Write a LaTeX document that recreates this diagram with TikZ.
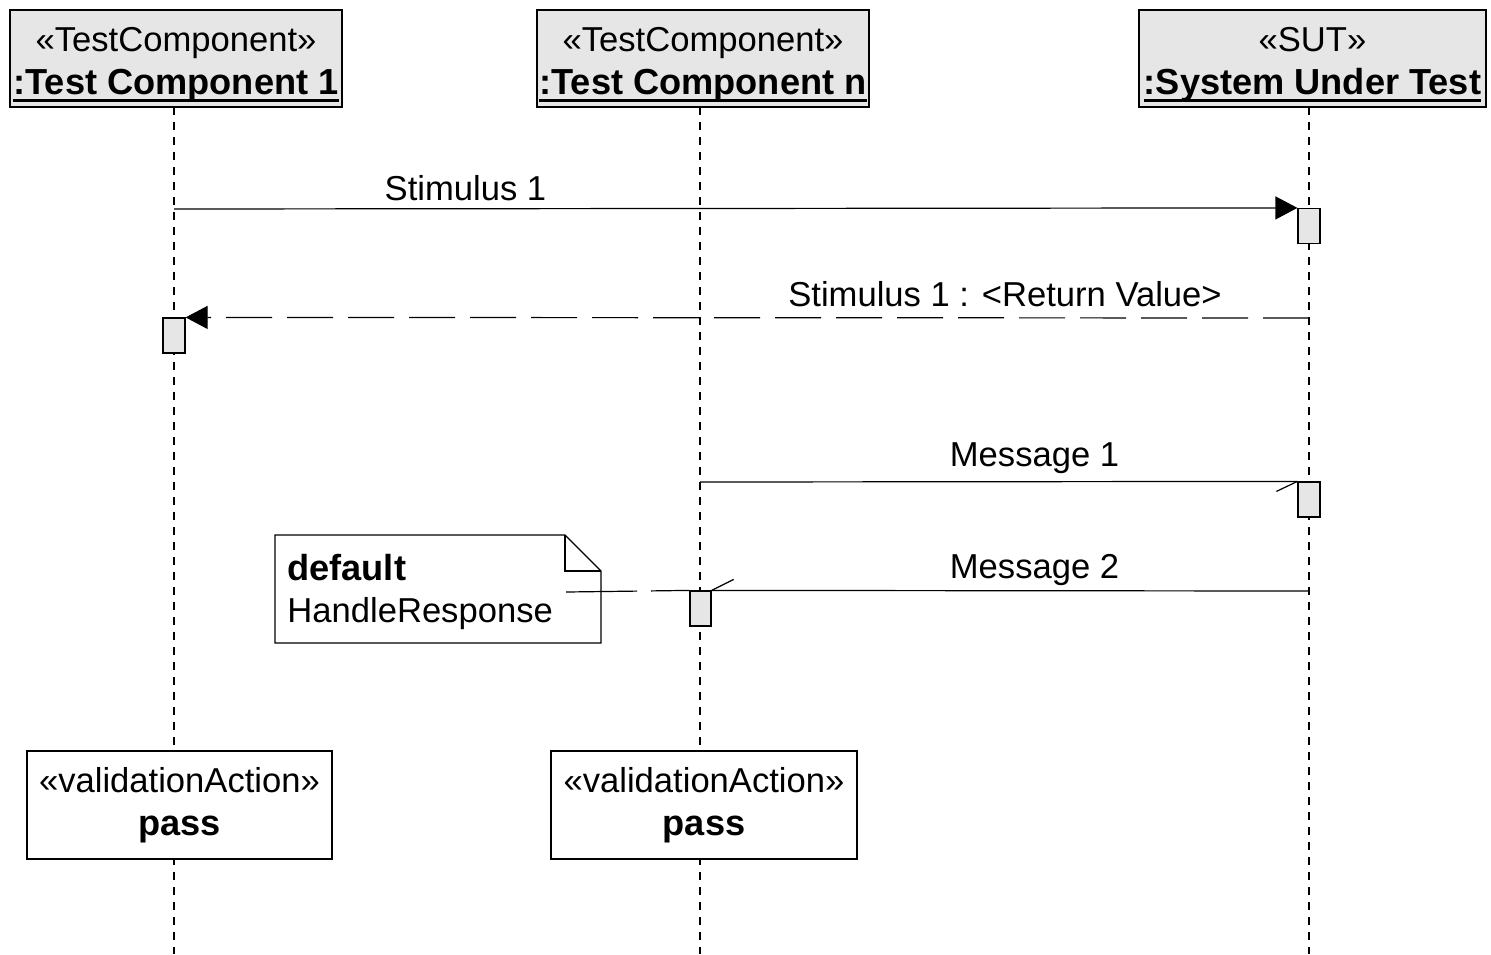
\documentclass[tikz,border=0pt]{standalone}
\usepackage{fontspec}
\setmainfont{Liberation Sans}
\usetikzlibrary{arrows.meta}
\definecolor{hdrgray}{HTML}{E6E6E6}
\newsavebox\hdrbox
\newcommand\hdrname[1]{\sbox\hdrbox{\fontsize{18.1}{21.5}\selectfont\bfseries #1}\usebox\hdrbox\llap{\rule[-4pt]{\wd\hdrbox}{1.6pt}}}
\newcommand\wbold[1]{{\fontsize{18.1}{21.5}\selectfont\bfseries #1}}
\tikzset{
  px/.style={x=0.5pt,y=-0.5pt},
  txt/.style={font=\fontsize{17.3}{21.5}\selectfont},
  header/.style={draw,fill=hdrgray,line width=0.6pt,align=center,inner sep=0pt,txt,minimum height=48.5pt},
  valbox/.style={draw,fill=white,line width=0.6pt,align=center,inner sep=0pt,txt,minimum height=54pt},
  lifeline/.style={line width=0.6pt,dash pattern=on 4pt off 3.5pt},
  actbox/.style={draw,fill=hdrgray,line width=0.6pt,minimum width=11pt,minimum height=17.5pt,inner sep=0pt},
  msg/.style={line width=0.6pt},
  retmsg/.style={line width=0.6pt,dash pattern=on 23pt off 7.5pt},
  lbl/.style={txt,inner sep=0pt,anchor=base},
  tip/.style={-{Triangle[length=11pt,width=11.5pt]}},
}
\begin{document}
\begin{tikzpicture}[px]
\useasboundingbox (0,0) rectangle (1491,954);
% headers
\node[header,minimum width=166pt] (h1) at (176,58.5) {\rule{0pt}{18pt}«TestComponent»\\\hdrname{:Test Component 1}};
\node[header,minimum width=166pt] (h2) at (703,58.5) {\rule{0pt}{18pt}«TestComponent»\\\hdrname{:Test Component n}};
\node[header,minimum width=173.5pt] (h3) at (1312.5,58.5) {\rule{0pt}{18pt}«SUT»\\\hdrname{:System Under Test}};
% lifeline ends
\coordinate (e1) at (174,954);
\coordinate (e2) at (700,954);
\coordinate (e3) at (1309,954);
\coordinate (t1) at (174,107);
\coordinate (t2) at (700,107);
\coordinate (t3) at (1309,107);
\draw[lifeline] (t1) -- (e1);
\draw[lifeline] (t2) -- (e2);
\draw[lifeline] (t3) -- (e3);
% validation boxes
\node[valbox,minimum width=152.5pt] (v1) at (179.5,805) {«validationAction»\\\wbold{pass}};
\node[valbox,minimum width=153pt] (v2) at (704,805) {«validationAction»\\\wbold{pass}};
% activation boxes
\node[actbox] (a1) at (1309,226) {};
\node[actbox] (a2) at (174,335.5) {};
\node[actbox] (a3) at (1309,499.5) {};
\node[actbox,minimum width=10.5pt] (a4) at (700.5,608.5) {};
% Stimulus 1
\coordinate (s1) at (174,209);
\draw[msg,tip] (s1) -- (a1.north west);
\node[lbl] (ls1) at (465.5,200) {Stimulus 1};
% return
\coordinate (r1) at (1309,318);
\draw[retmsg,tip] (r1) -- (a2.north east);
\node[lbl] (lr1) at (1005,306) {Stimulus 1 : <Return Value>};
% Message 1
\coordinate (m1) at (700,482);
\draw[msg] (m1) -- (a3.north west);
\draw[msg] (a3.north west) -- ++(-21,10);
\node[lbl] (lm1) at (1034.5,466) {Message 1};
% Message 2
\coordinate (m2) at (1309,591);
\draw[msg] (m2) -- (a4.north east);
\draw[msg] (a4.north east) -- ++(22,-11);
\node[lbl] (lm2) at (1034.5,578) {Message 2};
% note
\draw[line width=0.6pt,fill=white] (275,535) -- (565,535) -- (601,571) -- (601,643) -- (275,643) -- cycle;
\draw[line width=0.6pt] (565,535) -- (565,571) -- (601,571);
\node[txt,anchor=base west,inner sep=0pt] (nd) at (287,580) {\wbold{default}};
\node[txt,anchor=base west,inner sep=0pt] (nh) at (287,622) {HandleResponse};
\coordinate (na) at (566,592);
\draw[line width=0.6pt,dash pattern=on 35.5pt off 7pt] (na) -- (a4.north west);
\end{tikzpicture}
\end{document}
